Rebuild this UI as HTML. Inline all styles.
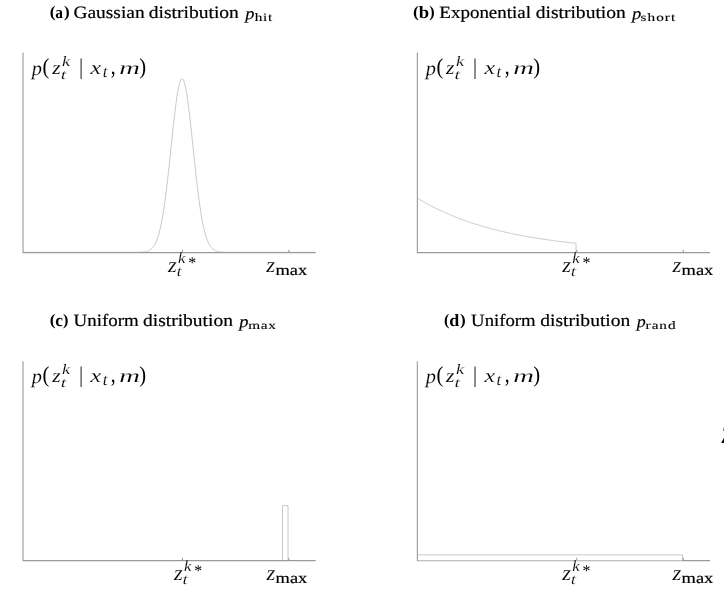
<!DOCTYPE html>
<html><head><meta charset="utf-8"><title>Beam range finder model components</title>
<style>
html,body{margin:0;padding:0;background:#fff;}
body{width:724px;height:612px;overflow:hidden;}
svg{display:block;font-kerning:none;text-rendering:geometricPrecision;}
</style></head><body>
<svg width="724" height="612" viewBox="0 0 724 612">
<rect width="724" height="612" fill="#fff"/>
<path d="M23.00 52.60V252.60H315.70" fill="none" stroke="#9a9a9a" stroke-width="1.1" stroke-linejoin="round"/>
<path d="M182.40 252.60v-2.8M288.90 252.60v-2.8" fill="none" stroke="#707070" stroke-width="0.75"/>
<path d="M23.0 252.30 L23.5 252.30 L24.0 252.30 L24.5 252.30 L25.0 252.30 L25.5 252.30 L26.0 252.30 L26.5 252.30 L27.0 252.30 L27.5 252.30 L28.0 252.30 L28.5 252.30 L29.0 252.30 L29.5 252.30 L30.0 252.30 L30.5 252.30 L31.0 252.30 L31.5 252.30 L32.0 252.30 L32.5 252.30 L33.0 252.30 L33.5 252.30 L34.0 252.30 L34.5 252.30 L35.0 252.30 L35.5 252.30 L36.0 252.30 L36.5 252.30 L37.0 252.30 L37.5 252.30 L38.0 252.30 L38.5 252.30 L39.0 252.30 L39.5 252.30 L40.0 252.30 L40.5 252.30 L41.0 252.30 L41.5 252.30 L42.0 252.30 L42.5 252.30 L43.0 252.30 L43.5 252.30 L44.0 252.30 L44.5 252.30 L45.0 252.30 L45.5 252.30 L46.0 252.30 L46.5 252.30 L47.0 252.30 L47.5 252.30 L48.0 252.30 L48.5 252.30 L49.0 252.30 L49.5 252.30 L50.0 252.30 L50.5 252.30 L51.0 252.30 L51.5 252.30 L52.0 252.30 L52.5 252.30 L53.0 252.30 L53.5 252.30 L54.0 252.30 L54.5 252.30 L55.0 252.30 L55.5 252.30 L56.0 252.30 L56.5 252.30 L57.0 252.30 L57.5 252.30 L58.0 252.30 L58.5 252.30 L59.0 252.30 L59.5 252.30 L60.0 252.30 L60.5 252.30 L61.0 252.30 L61.5 252.30 L62.0 252.30 L62.5 252.30 L63.0 252.30 L63.5 252.30 L64.0 252.30 L64.5 252.30 L65.0 252.30 L65.5 252.30 L66.0 252.30 L66.5 252.30 L67.0 252.30 L67.5 252.30 L68.0 252.30 L68.5 252.30 L69.0 252.30 L69.5 252.30 L70.0 252.30 L70.5 252.30 L71.0 252.30 L71.5 252.30 L72.0 252.30 L72.5 252.30 L73.0 252.30 L73.5 252.30 L74.0 252.30 L74.5 252.30 L75.0 252.30 L75.5 252.30 L76.0 252.30 L76.5 252.30 L77.0 252.30 L77.5 252.30 L78.0 252.30 L78.5 252.30 L79.0 252.30 L79.5 252.30 L80.0 252.30 L80.5 252.30 L81.0 252.30 L81.5 252.30 L82.0 252.30 L82.5 252.30 L83.0 252.30 L83.5 252.30 L84.0 252.30 L84.5 252.30 L85.0 252.30 L85.5 252.30 L86.0 252.30 L86.5 252.30 L87.0 252.30 L87.5 252.30 L88.0 252.30 L88.5 252.30 L89.0 252.30 L89.5 252.30 L90.0 252.30 L90.5 252.30 L91.0 252.30 L91.5 252.30 L92.0 252.30 L92.5 252.30 L93.0 252.30 L93.5 252.30 L94.0 252.30 L94.5 252.30 L95.0 252.30 L95.5 252.30 L96.0 252.30 L96.5 252.30 L97.0 252.30 L97.5 252.30 L98.0 252.30 L98.5 252.30 L99.0 252.30 L99.5 252.30 L100.0 252.30 L100.5 252.30 L101.0 252.30 L101.5 252.30 L102.0 252.30 L102.5 252.30 L103.0 252.30 L103.5 252.30 L104.0 252.30 L104.5 252.30 L105.0 252.30 L105.5 252.30 L106.0 252.30 L106.5 252.30 L107.0 252.30 L107.5 252.30 L108.0 252.30 L108.5 252.30 L109.0 252.30 L109.5 252.30 L110.0 252.30 L110.5 252.30 L111.0 252.30 L111.5 252.30 L112.0 252.30 L112.5 252.30 L113.0 252.30 L113.5 252.30 L114.0 252.30 L114.5 252.30 L115.0 252.30 L115.5 252.30 L116.0 252.30 L116.5 252.30 L117.0 252.30 L117.5 252.30 L118.0 252.30 L118.5 252.30 L119.0 252.30 L119.5 252.30 L120.0 252.30 L120.5 252.30 L121.0 252.30 L121.5 252.30 L122.0 252.30 L122.5 252.30 L123.0 252.30 L123.5 252.30 L124.0 252.30 L124.5 252.30 L125.0 252.30 L125.5 252.30 L126.0 252.30 L126.5 252.30 L127.0 252.30 L127.5 252.30 L128.0 252.30 L128.5 252.30 L129.0 252.30 L129.5 252.30 L130.0 252.30 L130.5 252.30 L131.0 252.30 L131.5 252.30 L132.0 252.29 L132.5 252.29 L133.0 252.29 L133.5 252.29 L134.0 252.29 L134.5 252.29 L135.0 252.28 L135.5 252.28 L136.0 252.27 L136.5 252.27 L137.0 252.26 L137.5 252.26 L138.0 252.25 L138.5 252.24 L139.0 252.22 L139.5 252.21 L140.0 252.19 L140.5 252.17 L141.0 252.15 L141.5 252.12 L142.0 252.08 L142.5 252.05 L143.0 252.00 L143.5 251.95 L144.0 251.89 L144.5 251.82 L145.0 251.73 L145.5 251.64 L146.0 251.53 L146.5 251.41 L147.0 251.27 L147.5 251.10 L148.0 250.92 L148.5 250.71 L149.0 250.48 L149.5 250.21 L150.0 249.91 L150.5 249.57 L151.0 249.19 L151.5 248.76 L152.0 248.28 L152.5 247.75 L153.0 247.16 L153.5 246.50 L154.0 245.78 L154.5 244.98 L155.0 244.09 L155.5 243.12 L156.0 242.06 L156.5 240.90 L157.0 239.63 L157.5 238.25 L158.0 236.75 L158.5 235.13 L159.0 233.37 L159.5 231.48 L160.0 229.46 L160.5 227.28 L161.0 224.96 L161.5 222.48 L162.0 219.85 L162.5 217.05 L163.0 214.10 L163.5 210.98 L164.0 207.71 L164.5 204.27 L165.0 200.68 L165.5 196.93 L166.0 193.04 L166.5 189.00 L167.0 184.83 L167.5 180.54 L168.0 176.13 L168.5 171.62 L169.0 167.01 L169.5 162.34 L170.0 157.60 L170.5 152.83 L171.0 148.03 L171.5 143.22 L172.0 138.44 L172.5 133.69 L173.0 129.00 L173.5 124.39 L174.0 119.88 L174.5 115.51 L175.0 111.28 L175.5 107.22 L176.0 103.36 L176.5 99.71 L177.0 96.30 L177.5 93.15 L178.0 90.27 L178.5 87.68 L179.0 85.40 L179.5 83.44 L180.0 81.81 L180.5 80.53 L181.0 79.60 L181.5 79.02 L182.0 78.80 L182.5 78.95 L183.0 79.45 L183.5 80.31 L184.0 81.53 L184.5 83.09 L185.0 84.98 L185.5 87.20 L186.0 89.73 L186.5 92.55 L187.0 95.65 L187.5 99.01 L188.0 102.61 L188.5 106.43 L189.0 110.45 L189.5 114.65 L190.0 119.00 L190.5 123.48 L191.0 128.07 L191.5 132.74 L192.0 137.48 L192.5 142.27 L193.0 147.07 L193.5 151.87 L194.0 156.65 L194.5 161.40 L195.0 166.08 L195.5 170.70 L196.0 175.23 L196.5 179.66 L197.0 183.98 L197.5 188.18 L198.0 192.24 L198.5 196.17 L199.0 199.94 L199.5 203.57 L200.0 207.03 L200.5 210.34 L201.0 213.49 L201.5 216.48 L202.0 219.30 L202.5 221.97 L203.0 224.48 L203.5 226.83 L204.0 229.03 L204.5 231.09 L205.0 233.01 L205.5 234.79 L206.0 236.43 L206.5 237.96 L207.0 239.36 L207.5 240.65 L208.0 241.83 L208.5 242.92 L209.0 243.91 L209.5 244.81 L210.0 245.62 L210.5 246.36 L211.0 247.03 L211.5 247.64 L212.0 248.18 L212.5 248.67 L213.0 249.10 L213.5 249.49 L214.0 249.84 L214.5 250.15 L215.0 250.42 L215.5 250.67 L216.0 250.88 L216.5 251.07 L217.0 251.24 L217.5 251.38 L218.0 251.51 L218.5 251.62 L219.0 251.72 L219.5 251.80 L220.0 251.87 L220.5 251.94 L221.0 251.99 L221.5 252.04 L222.0 252.08 L222.5 252.11 L223.0 252.14 L223.5 252.17 L224.0 252.19 L224.5 252.21 L225.0 252.22 L225.5 252.23 L226.0 252.24 L226.5 252.25 L227.0 252.26 L227.5 252.27 L228.0 252.27 L228.5 252.28 L229.0 252.28 L229.5 252.29 L230.0 252.29 L230.5 252.29 L231.0 252.29 L231.5 252.29 L232.0 252.29 L232.5 252.30 L233.0 252.30 L233.5 252.30 L234.0 252.30 L234.5 252.30 L235.0 252.30 L235.5 252.30 L236.0 252.30 L236.5 252.30 L237.0 252.30 L237.5 252.30 L238.0 252.30 L238.5 252.30 L239.0 252.30 L239.5 252.30 L240.0 252.30 L240.5 252.30 L241.0 252.30 L241.5 252.30 L242.0 252.30 L242.5 252.30 L243.0 252.30 L243.5 252.30 L244.0 252.30 L244.5 252.30 L245.0 252.30 L245.5 252.30 L246.0 252.30 L246.5 252.30 L247.0 252.30 L247.5 252.30 L248.0 252.30 L248.5 252.30 L249.0 252.30 L249.5 252.30 L250.0 252.30 L250.5 252.30 L251.0 252.30 L251.5 252.30 L252.0 252.30 L252.5 252.30 L253.0 252.30 L253.5 252.30 L254.0 252.30 L254.5 252.30 L255.0 252.30 L255.5 252.30 L256.0 252.30 L256.5 252.30 L257.0 252.30 L257.5 252.30 L258.0 252.30 L258.5 252.30 L259.0 252.30 L259.5 252.30 L260.0 252.30 L260.5 252.30 L261.0 252.30 L261.5 252.30 L262.0 252.30 L262.5 252.30 L263.0 252.30 L263.5 252.30 L264.0 252.30 L264.5 252.30 L265.0 252.30 L265.5 252.30 L266.0 252.30 L266.5 252.30 L267.0 252.30 L267.5 252.30 L268.0 252.30 L268.5 252.30 L269.0 252.30 L269.5 252.30 L270.0 252.30 L270.5 252.30 L271.0 252.30 L271.5 252.30 L272.0 252.30 L272.5 252.30 L273.0 252.30 L273.5 252.30 L274.0 252.30 L274.5 252.30 L275.0 252.30 L275.5 252.30 L276.0 252.30 L276.5 252.30 L277.0 252.30 L277.5 252.30 L278.0 252.30 L278.5 252.30 L279.0 252.30 L279.5 252.30 L280.0 252.30 L280.5 252.30 L281.0 252.30 L281.5 252.30 L282.0 252.30 L282.5 252.30 L283.0 252.30 L283.5 252.30 L284.0 252.30 L284.5 252.30 L285.0 252.30 L285.5 252.30 L286.0 252.30 L286.5 252.30 L287.0 252.30 L287.5 252.30 L288.0 252.30 L288.5 252.30 L289.0 252.30 L289.5 252.30 L290.0 252.30 L290.5 252.30 L291.0 252.30 L291.5 252.30 L292.0 252.30 L292.5 252.30 L293.0 252.30 L293.5 252.30 L294.0 252.30 L294.5 252.30 L295.0 252.30 L295.5 252.30 L296.0 252.30 L296.5 252.30 L297.0 252.30 L297.5 252.30 L298.0 252.30 L298.5 252.30 L299.0 252.30 L299.5 252.30 L300.0 252.30 L300.5 252.30 L301.0 252.30 L301.5 252.30 L302.0 252.30 L302.5 252.30 L303.0 252.30 L303.5 252.30 L304.0 252.30 L304.5 252.30 L305.0 252.30 L305.5 252.30 L306.0 252.30 L306.5 252.30 L307.0 252.30 L307.5 252.30 L308.0 252.30 L308.5 252.30 L309.0 252.30 L309.5 252.30 L310.0 252.30 L310.5 252.30 L311.0 252.30 L311.5 252.30 L312.0 252.30 L312.5 252.30 L313.0 252.30 L313.5 252.30 L314.0 252.30 L314.5 252.30 L315.0 252.30 L315.5 252.30" fill="none" stroke="#a4a4a4" stroke-width="0.6"/>
<text font-family="Liberation Serif, serif" font-style="italic" font-size="100" fill="#000" stroke="#fff" stroke-width="0.59" transform="matrix(0.20442 0 0 0.20173 31.798 74.505)">p</text>
<text font-family="Liberation Serif, serif" font-size="100" fill="#000" transform="matrix(0.20636 0 0 0.22609 42.493 74.187)">(</text>
<text font-family="Liberation Serif, serif" font-style="italic" font-size="100" fill="#000" stroke="#fff" stroke-width="0.62" transform="matrix(0.21694 0 0 0.19391 52.144 73.900)">z</text>
<text font-family="Liberation Serif, serif" font-style="italic" font-size="100" fill="#000" stroke="#fff" stroke-width="0.83" transform="matrix(0.18153 0 0 0.14412 61.977 66.000)">k</text>
<text font-family="Liberation Serif, serif" font-style="italic" font-size="100" fill="#000" stroke="#fff" stroke-width="1.23" transform="matrix(0.19692 0 0 0.13793 60.635 78.865)">t</text>
<path d="M81.10 58.50V79.00" stroke="#000" stroke-width="0.9" fill="none"/>
<text font-family="Liberation Serif, serif" font-style="italic" font-size="100" fill="#000" stroke="#fff" stroke-width="0.62" transform="matrix(0.23845 0 0 0.19391 90.591 73.900)">x</text>
<text font-family="Liberation Serif, serif" font-style="italic" font-size="100" fill="#000" stroke="#fff" stroke-width="0.72" transform="matrix(0.16935 0 0 0.16587 102.656 77.238)">t</text>
<text font-family="Liberation Serif, serif" font-size="100" fill="#000" transform="matrix(0.19473 0 0 0.24919 110.858 74.167)">,</text>
<text font-family="Liberation Serif, serif" font-style="italic" font-size="100" fill="#000" stroke="#fff" stroke-width="0.64" transform="matrix(0.28570 0 0 0.18888 119.268 73.900)">m</text>
<text font-family="Liberation Serif, serif" font-size="100" fill="#000" transform="matrix(0.20636 0 0 0.22609 139.235 74.187)">)</text>
<text font-family="Liberation Serif, serif" font-style="italic" font-size="100" fill="#000" stroke="#fff" stroke-width="0.56" transform="matrix(0.22727 0 0 0.21569 167.955 271.900)">z</text>
<text font-family="Liberation Serif, serif" font-style="italic" font-size="100" fill="#000" stroke="#fff" stroke-width="0.77" transform="matrix(0.16524 0 0 0.15565 178.024 263.100)">k</text>
<text font-family="Liberation Serif, serif" font-size="100" fill="#000" transform="matrix(0.15868 0 0 0.16362 188.125 268.114)">*</text>
<text font-family="Liberation Serif, serif" font-style="italic" font-size="100" fill="#000" stroke="#fff" stroke-width="1.17" transform="matrix(0.18905 0 0 0.14491 176.469 276.258)">t</text>
<text font-family="Liberation Serif, serif" font-style="italic" font-size="100" fill="#000" stroke="#fff" stroke-width="0.56" transform="matrix(0.22985 0 0 0.21569 266.258 271.900)">z</text>
<text font-family="Liberation Serif, serif" font-size="15.4" fill="#000" stroke="#000" stroke-width="0.2" transform="matrix(1.19604 0 0 1 275.413 274.800)">max</text>
<path d="M417.35 52.60V252.60H710.05" fill="none" stroke="#9a9a9a" stroke-width="1.1" stroke-linejoin="round"/>
<path d="M576.75 252.60v-2.8M683.25 252.60v-2.8" fill="none" stroke="#707070" stroke-width="0.75"/>
<path d="M417.4 198.10 L418.4 198.71 L419.4 199.31 L420.4 199.90 L421.4 200.49 L422.4 201.07 L423.4 201.65 L424.4 202.22 L425.4 202.78 L426.4 203.33 L427.4 203.88 L428.4 204.43 L429.4 204.96 L430.4 205.49 L431.4 206.02 L432.4 206.54 L433.4 207.05 L434.4 207.56 L435.4 208.06 L436.4 208.56 L437.4 209.05 L438.4 209.53 L439.4 210.01 L440.4 210.49 L441.4 210.96 L442.4 211.42 L443.4 211.88 L444.4 212.33 L445.4 212.78 L446.4 213.22 L447.4 213.66 L448.4 214.10 L449.4 214.53 L450.4 214.95 L451.4 215.37 L452.4 215.78 L453.4 216.19 L454.4 216.60 L455.4 217.00 L456.4 217.39 L457.4 217.79 L458.4 218.17 L459.4 218.56 L460.4 218.93 L461.4 219.31 L462.4 219.68 L463.4 220.04 L464.4 220.41 L465.4 220.76 L466.4 221.12 L467.4 221.47 L468.4 221.81 L469.4 222.16 L470.4 222.49 L471.4 222.83 L472.4 223.16 L473.4 223.49 L474.4 223.81 L475.4 224.13 L476.4 224.44 L477.4 224.76 L478.4 225.07 L479.4 225.37 L480.4 225.67 L481.4 225.97 L482.4 226.27 L483.4 226.56 L484.4 226.85 L485.4 227.13 L486.4 227.42 L487.4 227.70 L488.4 227.97 L489.4 228.24 L490.4 228.51 L491.4 228.78 L492.4 229.05 L493.4 229.31 L494.4 229.56 L495.4 229.82 L496.4 230.07 L497.4 230.32 L498.4 230.57 L499.4 230.81 L500.4 231.05 L501.4 231.29 L502.4 231.53 L503.4 231.76 L504.4 231.99 L505.4 232.22 L506.4 232.44 L507.4 232.67 L508.4 232.89 L509.4 233.10 L510.4 233.32 L511.4 233.53 L512.4 233.74 L513.4 233.95 L514.4 234.16 L515.4 234.36 L516.4 234.56 L517.4 234.76 L518.4 234.96 L519.4 235.15 L520.4 235.34 L521.4 235.53 L522.4 235.72 L523.4 235.91 L524.4 236.09 L525.4 236.27 L526.4 236.45 L527.4 236.63 L528.4 236.81 L529.4 236.98 L530.4 237.15 L531.4 237.32 L532.4 237.49 L533.4 237.66 L534.4 237.82 L535.4 237.98 L536.4 238.14 L537.4 238.30 L538.4 238.46 L539.4 238.62 L540.4 238.77 L541.4 238.92 L542.4 239.07 L543.4 239.22 L544.4 239.37 L545.4 239.51 L546.4 239.66 L547.4 239.80 L548.4 239.94 L549.4 240.08 L550.4 240.21 L551.4 240.35 L552.4 240.48 L553.4 240.62 L554.4 240.75 L555.4 240.88 L556.4 241.00 L557.4 241.13 L558.4 241.26 L559.4 241.38 L560.4 241.50 L561.4 241.62 L562.4 241.74 L563.4 241.86 L564.4 241.98 L565.4 242.09 L566.4 242.21 L567.4 242.32 L568.4 242.43 L569.4 242.55 L570.4 242.65 L571.4 242.76 L572.4 242.87 L573.4 242.98 L574.4 243.08 L575.4 243.18 L576.0 243.25 L576.0 252.60" fill="none" stroke="#a4a4a4" stroke-width="0.6"/>
<text font-family="Liberation Serif, serif" font-style="italic" font-size="100" fill="#000" stroke="#fff" stroke-width="0.59" transform="matrix(0.20442 0 0 0.20173 425.698 74.505)">p</text>
<text font-family="Liberation Serif, serif" font-size="100" fill="#000" transform="matrix(0.20636 0 0 0.22609 436.393 74.187)">(</text>
<text font-family="Liberation Serif, serif" font-style="italic" font-size="100" fill="#000" stroke="#fff" stroke-width="0.62" transform="matrix(0.21694 0 0 0.19391 446.044 73.900)">z</text>
<text font-family="Liberation Serif, serif" font-style="italic" font-size="100" fill="#000" stroke="#fff" stroke-width="0.83" transform="matrix(0.18153 0 0 0.14412 455.877 66.000)">k</text>
<text font-family="Liberation Serif, serif" font-style="italic" font-size="100" fill="#000" stroke="#fff" stroke-width="1.23" transform="matrix(0.19692 0 0 0.13793 454.535 78.865)">t</text>
<path d="M475.00 58.50V79.00" stroke="#000" stroke-width="0.9" fill="none"/>
<text font-family="Liberation Serif, serif" font-style="italic" font-size="100" fill="#000" stroke="#fff" stroke-width="0.62" transform="matrix(0.23845 0 0 0.19391 484.491 73.900)">x</text>
<text font-family="Liberation Serif, serif" font-style="italic" font-size="100" fill="#000" stroke="#fff" stroke-width="0.72" transform="matrix(0.16935 0 0 0.16587 496.556 77.238)">t</text>
<text font-family="Liberation Serif, serif" font-size="100" fill="#000" transform="matrix(0.19473 0 0 0.24919 504.758 74.167)">,</text>
<text font-family="Liberation Serif, serif" font-style="italic" font-size="100" fill="#000" stroke="#fff" stroke-width="0.64" transform="matrix(0.28570 0 0 0.18888 513.168 73.900)">m</text>
<text font-family="Liberation Serif, serif" font-size="100" fill="#000" transform="matrix(0.20636 0 0 0.22609 533.135 74.187)">)</text>
<text font-family="Liberation Serif, serif" font-style="italic" font-size="100" fill="#000" stroke="#fff" stroke-width="0.56" transform="matrix(0.22727 0 0 0.21569 562.305 271.900)">z</text>
<text font-family="Liberation Serif, serif" font-style="italic" font-size="100" fill="#000" stroke="#fff" stroke-width="0.77" transform="matrix(0.16524 0 0 0.15565 572.374 263.100)">k</text>
<text font-family="Liberation Serif, serif" font-size="100" fill="#000" transform="matrix(0.15868 0 0 0.16362 582.475 268.114)">*</text>
<text font-family="Liberation Serif, serif" font-style="italic" font-size="100" fill="#000" stroke="#fff" stroke-width="1.17" transform="matrix(0.18905 0 0 0.14491 570.819 276.258)">t</text>
<text font-family="Liberation Serif, serif" font-style="italic" font-size="100" fill="#000" stroke="#fff" stroke-width="0.56" transform="matrix(0.22985 0 0 0.21569 672.458 271.900)">z</text>
<text font-family="Liberation Serif, serif" font-size="15.4" fill="#000" stroke="#000" stroke-width="0.2" transform="matrix(1.19604 0 0 1 681.613 274.800)">max</text>
<path d="M23.00 361.20V560.60H315.70" fill="none" stroke="#9a9a9a" stroke-width="1.1" stroke-linejoin="round"/>
<path d="M182.40 560.60v-2.8M288.90 560.60v-2.8" fill="none" stroke="#707070" stroke-width="0.75"/>
<path d="M282.50 560.60V505.60H288.00V560.60" fill="none" stroke="#a4a4a4" stroke-width="0.6"/>
<text font-family="Liberation Serif, serif" font-style="italic" font-size="100" fill="#000" stroke="#fff" stroke-width="0.59" transform="matrix(0.20442 0 0 0.20173 31.798 382.505)">p</text>
<text font-family="Liberation Serif, serif" font-size="100" fill="#000" transform="matrix(0.20636 0 0 0.22609 42.493 382.187)">(</text>
<text font-family="Liberation Serif, serif" font-style="italic" font-size="100" fill="#000" stroke="#fff" stroke-width="0.62" transform="matrix(0.21694 0 0 0.19391 52.144 381.900)">z</text>
<text font-family="Liberation Serif, serif" font-style="italic" font-size="100" fill="#000" stroke="#fff" stroke-width="0.83" transform="matrix(0.18153 0 0 0.14412 61.977 374.000)">k</text>
<text font-family="Liberation Serif, serif" font-style="italic" font-size="100" fill="#000" stroke="#fff" stroke-width="1.23" transform="matrix(0.19692 0 0 0.13793 60.635 386.865)">t</text>
<path d="M81.10 366.50V387.00" stroke="#000" stroke-width="0.9" fill="none"/>
<text font-family="Liberation Serif, serif" font-style="italic" font-size="100" fill="#000" stroke="#fff" stroke-width="0.62" transform="matrix(0.23845 0 0 0.19391 90.591 381.900)">x</text>
<text font-family="Liberation Serif, serif" font-style="italic" font-size="100" fill="#000" stroke="#fff" stroke-width="0.72" transform="matrix(0.16935 0 0 0.16587 102.656 385.238)">t</text>
<text font-family="Liberation Serif, serif" font-size="100" fill="#000" transform="matrix(0.19473 0 0 0.24919 110.858 382.167)">,</text>
<text font-family="Liberation Serif, serif" font-style="italic" font-size="100" fill="#000" stroke="#fff" stroke-width="0.64" transform="matrix(0.28570 0 0 0.18888 119.268 381.900)">m</text>
<text font-family="Liberation Serif, serif" font-size="100" fill="#000" transform="matrix(0.20636 0 0 0.22609 139.235 382.187)">)</text>
<text font-family="Liberation Serif, serif" font-style="italic" font-size="100" fill="#000" stroke="#fff" stroke-width="0.56" transform="matrix(0.22727 0 0 0.21569 174.055 579.900)">z</text>
<text font-family="Liberation Serif, serif" font-style="italic" font-size="100" fill="#000" stroke="#fff" stroke-width="0.77" transform="matrix(0.16524 0 0 0.15565 184.124 571.100)">k</text>
<text font-family="Liberation Serif, serif" font-size="100" fill="#000" transform="matrix(0.15868 0 0 0.16362 194.225 576.114)">*</text>
<text font-family="Liberation Serif, serif" font-style="italic" font-size="100" fill="#000" stroke="#fff" stroke-width="1.17" transform="matrix(0.18905 0 0 0.14491 182.569 584.258)">t</text>
<text font-family="Liberation Serif, serif" font-style="italic" font-size="100" fill="#000" stroke="#fff" stroke-width="0.56" transform="matrix(0.22985 0 0 0.21569 266.458 579.900)">z</text>
<text font-family="Liberation Serif, serif" font-size="15.4" fill="#000" stroke="#000" stroke-width="0.2" transform="matrix(1.19604 0 0 1 275.613 582.800)">max</text>
<path d="M417.35 361.20V560.60H710.05" fill="none" stroke="#9a9a9a" stroke-width="1.1" stroke-linejoin="round"/>
<path d="M576.75 560.60v-2.8M683.25 560.60v-2.8" fill="none" stroke="#707070" stroke-width="0.75"/>
<path d="M418.05 560.60H682.15" fill="none" stroke="#fff" stroke-opacity="0.38" stroke-width="1.8"/><path d="M417.35 554.85H682.50V560.60" fill="none" stroke="#a4a4a4" stroke-width="0.6"/>
<text font-family="Liberation Serif, serif" font-style="italic" font-size="100" fill="#000" stroke="#fff" stroke-width="0.59" transform="matrix(0.20442 0 0 0.20173 425.698 382.505)">p</text>
<text font-family="Liberation Serif, serif" font-size="100" fill="#000" transform="matrix(0.20636 0 0 0.22609 436.393 382.187)">(</text>
<text font-family="Liberation Serif, serif" font-style="italic" font-size="100" fill="#000" stroke="#fff" stroke-width="0.62" transform="matrix(0.21694 0 0 0.19391 446.044 381.900)">z</text>
<text font-family="Liberation Serif, serif" font-style="italic" font-size="100" fill="#000" stroke="#fff" stroke-width="0.83" transform="matrix(0.18153 0 0 0.14412 455.877 374.000)">k</text>
<text font-family="Liberation Serif, serif" font-style="italic" font-size="100" fill="#000" stroke="#fff" stroke-width="1.23" transform="matrix(0.19692 0 0 0.13793 454.535 386.865)">t</text>
<path d="M475.00 366.50V387.00" stroke="#000" stroke-width="0.9" fill="none"/>
<text font-family="Liberation Serif, serif" font-style="italic" font-size="100" fill="#000" stroke="#fff" stroke-width="0.62" transform="matrix(0.23845 0 0 0.19391 484.491 381.900)">x</text>
<text font-family="Liberation Serif, serif" font-style="italic" font-size="100" fill="#000" stroke="#fff" stroke-width="0.72" transform="matrix(0.16935 0 0 0.16587 496.556 385.238)">t</text>
<text font-family="Liberation Serif, serif" font-size="100" fill="#000" transform="matrix(0.19473 0 0 0.24919 504.758 382.167)">,</text>
<text font-family="Liberation Serif, serif" font-style="italic" font-size="100" fill="#000" stroke="#fff" stroke-width="0.64" transform="matrix(0.28570 0 0 0.18888 513.168 381.900)">m</text>
<text font-family="Liberation Serif, serif" font-size="100" fill="#000" transform="matrix(0.20636 0 0 0.22609 533.135 382.187)">)</text>
<text font-family="Liberation Serif, serif" font-style="italic" font-size="100" fill="#000" stroke="#fff" stroke-width="0.56" transform="matrix(0.22727 0 0 0.21569 562.305 579.900)">z</text>
<text font-family="Liberation Serif, serif" font-style="italic" font-size="100" fill="#000" stroke="#fff" stroke-width="0.77" transform="matrix(0.16524 0 0 0.15565 572.374 571.100)">k</text>
<text font-family="Liberation Serif, serif" font-size="100" fill="#000" transform="matrix(0.15868 0 0 0.16362 582.475 576.114)">*</text>
<text font-family="Liberation Serif, serif" font-style="italic" font-size="100" fill="#000" stroke="#fff" stroke-width="1.17" transform="matrix(0.18905 0 0 0.14491 570.819 584.258)">t</text>
<text font-family="Liberation Serif, serif" font-style="italic" font-size="100" fill="#000" stroke="#fff" stroke-width="0.56" transform="matrix(0.22985 0 0 0.21569 672.458 579.900)">z</text>
<text font-family="Liberation Serif, serif" font-size="15.4" fill="#000" stroke="#000" stroke-width="0.2" transform="matrix(1.19604 0 0 1 681.613 582.800)">max</text>
<text font-family="Liberation Serif, serif" font-weight="bold" font-size="100" fill="#000" transform="matrix(0.17326 0 0 0.15881 49.639 17.219)">(</text>
<text font-family="Liberation Serif, serif" font-weight="bold" font-size="17.3" fill="#000" transform="matrix(0.89393 0 0 1 55.352 18.400)">a</text>
<text font-family="Liberation Serif, serif" font-weight="bold" font-size="100" fill="#000" transform="matrix(0.17132 0 0 0.15881 63.948 17.219)">)</text>
<text font-family="Liberation Serif, serif" font-size="17.3" fill="#000" stroke="#000" stroke-width="0.2" transform="matrix(1.12409 0 0 1 73.402 18.400)">Gaussian</text>
<text font-family="Liberation Serif, serif" font-size="17.3" fill="#000" stroke="#000" stroke-width="0.2" transform="matrix(1.13197 0 0 1 148.692 18.400)">distribution</text>
<text font-family="Liberation Serif, serif" font-style="italic" font-size="100" fill="#000" stroke="#000" stroke-width="0.89" transform="matrix(0.18360 0 0 0.16811 245.176 19.021)">p</text>
<text font-family="Liberation Serif, serif" font-size="11.4" letter-spacing="0.527" fill="#000" stroke="#000" stroke-width="0.12" transform="matrix(1.34000 0 0 1 254.751 21.200)">hit</text>
<text font-family="Liberation Serif, serif" font-weight="bold" font-size="100" fill="#000" transform="matrix(0.17716 0 0 0.15881 412.971 17.219)">(</text>
<text font-family="Liberation Serif, serif" font-weight="bold" font-size="17.3" fill="#000" transform="matrix(1.08037 0 0 1 418.863 18.400)">b</text>
<text font-family="Liberation Serif, serif" font-weight="bold" font-size="100" fill="#000" transform="matrix(0.16353 0 0 0.15881 429.273 17.219)">)</text>
<text font-family="Liberation Serif, serif" font-size="17.3" fill="#000" stroke="#000" stroke-width="0.2" transform="matrix(1.09729 0 0 1 439.353 18.400)">Exponential</text>
<text font-family="Liberation Serif, serif" font-size="17.3" fill="#000" stroke="#000" stroke-width="0.2" transform="matrix(1.13070 0 0 1 535.693 18.400)">distribution</text>
<text font-family="Liberation Serif, serif" font-style="italic" font-size="100" fill="#000" stroke="#000" stroke-width="0.89" transform="matrix(0.18549 0 0 0.16811 631.987 19.021)">p</text>
<text font-family="Liberation Serif, serif" font-size="11.4" letter-spacing="0.777" fill="#000" stroke="#000" stroke-width="0.12" transform="matrix(1.34000 0 0 1 640.473 21.200)">short</text>
<text font-family="Liberation Serif, serif" font-weight="bold" font-size="100" fill="#000" transform="matrix(0.17326 0 0 0.15881 49.639 325.219)">(</text>
<text font-family="Liberation Serif, serif" font-weight="bold" font-size="17.3" fill="#000" transform="matrix(0.99903 0 0 1 55.359 326.400)">c</text>
<text font-family="Liberation Serif, serif" font-weight="bold" font-size="100" fill="#000" transform="matrix(0.16353 0 0 0.15881 63.073 325.219)">)</text>
<text font-family="Liberation Serif, serif" font-size="17.3" fill="#000" stroke="#000" stroke-width="0.2" transform="matrix(1.09339 0 0 1 73.553 326.400)">Uniform</text>
<text font-family="Liberation Serif, serif" font-size="17.3" fill="#000" stroke="#000" stroke-width="0.2" transform="matrix(1.12817 0 0 1 142.995 326.400)">distribution</text>
<text font-family="Liberation Serif, serif" font-style="italic" font-size="100" fill="#000" stroke="#000" stroke-width="0.89" transform="matrix(0.18455 0 0 0.16811 239.231 327.021)">p</text>
<text font-family="Liberation Serif, serif" font-size="11.4" letter-spacing="0.469" fill="#000" stroke="#000" stroke-width="0.12" transform="matrix(1.34000 0 0 1 248.329 329.200)">max</text>
<text font-family="Liberation Serif, serif" font-weight="bold" font-size="100" fill="#000" transform="matrix(0.16158 0 0 0.15881 443.990 325.219)">(</text>
<text font-family="Liberation Serif, serif" font-weight="bold" font-size="17.3" fill="#000" transform="matrix(1.04286 0 0 1 449.219 326.400)">d</text>
<text font-family="Liberation Serif, serif" font-weight="bold" font-size="100" fill="#000" transform="matrix(0.17132 0 0 0.15881 459.898 325.219)">)</text>
<text font-family="Liberation Serif, serif" font-size="17.3" fill="#000" stroke="#000" stroke-width="0.2" transform="matrix(1.08406 0 0 1 471.106 326.400)">Uniform</text>
<text font-family="Liberation Serif, serif" font-size="17.3" fill="#000" stroke="#000" stroke-width="0.2" transform="matrix(1.13070 0 0 1 540.193 326.400)">distribution</text>
<text font-family="Liberation Serif, serif" font-style="italic" font-size="100" fill="#000" stroke="#000" stroke-width="0.89" transform="matrix(0.17982 0 0 0.16811 636.654 327.021)">p</text>
<text font-family="Liberation Serif, serif" font-size="11.4" letter-spacing="0.709" fill="#000" stroke="#000" stroke-width="0.12" transform="matrix(1.34000 0 0 1 645.594 329.200)">rand</text>
<text font-family="Liberation Serif, serif" font-style="italic" font-size="100" fill="#000" transform="matrix(0.28409 0 0 0.35513 721.819 442.900)">z</text>
</svg>
</body></html>
